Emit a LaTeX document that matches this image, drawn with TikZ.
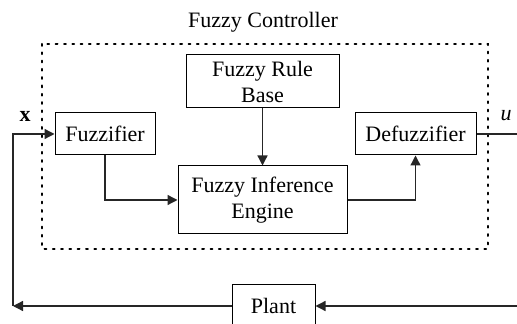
\documentclass[tikz,border=0pt]{standalone}
\usepackage{fontspec}
\setmainfont{Liberation Serif}
\usetikzlibrary{arrows.meta}
\tikzset{
	blockbox/.style={draw, line width=0.5pt, inner sep=0pt, align=center, font=\fontsize{11}{13}\selectfont},
	sigarrow/.style={line width=0.65pt, color=black!85, -{Triangle[length=5pt,width=5pt]}},
	sigline/.style={line width=0.65pt, color=black!85}
}

\begin{document}
\begin{tikzpicture}[x=0.5pt, y=-0.5pt]
			%%%%% START %%%%%
			
			\useasboundingbox (0, 0) rectangle (517, 324);
			\clip (0, 0) rectangle (517, 324);
			
			\node[font=\fontsize{11}{13}\selectfont] (title) at (263, 22) {Fuzzy Controller};
			\draw[line width=1pt, dash pattern=on 0.9pt off 3.25pt, line cap=round] (42, 44) rectangle (488, 249);
			
			\node[blockbox, minimum width=50pt, minimum height=21pt] (fuzz) at (105, 134) {Fuzzifier};
			\node[blockbox, minimum width=76.5pt, minimum height=26.5pt] (rule) at (262.5, 81.5) {Fuzzy Rule\\Base};
			\node[blockbox, minimum width=84.5pt, minimum height=34pt] (inf) at (262.5, 200) {Fuzzy Inference\\Engine};
			\node[blockbox, minimum width=60.5pt, minimum height=21pt] (defuzz) at (415.5, 134) {Defuzzifier};
			\node[blockbox, minimum width=41.5pt, minimum height=21pt] (plant) at (273.5, 306) {Plant};
			
			\node[font=\fontsize{11}{13}\selectfont\bfseries] (xlab) at (25, 116) {x};
			\node[font=\fontsize{11}{13}\selectfont\itshape] (ulab) at (506, 116) {u};
			
			\coordinate (fbcorner) at (13, 306);
			\coordinate (uend) at (517, 134);
			\coordinate (rend) at (517, 306);
			
			\draw[sigarrow] (rule.south) -- (inf.north);
			\draw[sigarrow] (fuzz.south) |- (inf.west);
			\draw[sigarrow] (inf.east) -| (defuzz.south);
			\draw[sigline] (defuzz.east) -- (uend);
			
			\draw[sigarrow] (rend) -- (plant.east);
			\draw[sigarrow] (plant.west) -- (fbcorner);
			\draw[sigarrow] (fbcorner) |- (fuzz.west);
			
			%%%%% END %%%%%
		\end{tikzpicture}
\end{document}
